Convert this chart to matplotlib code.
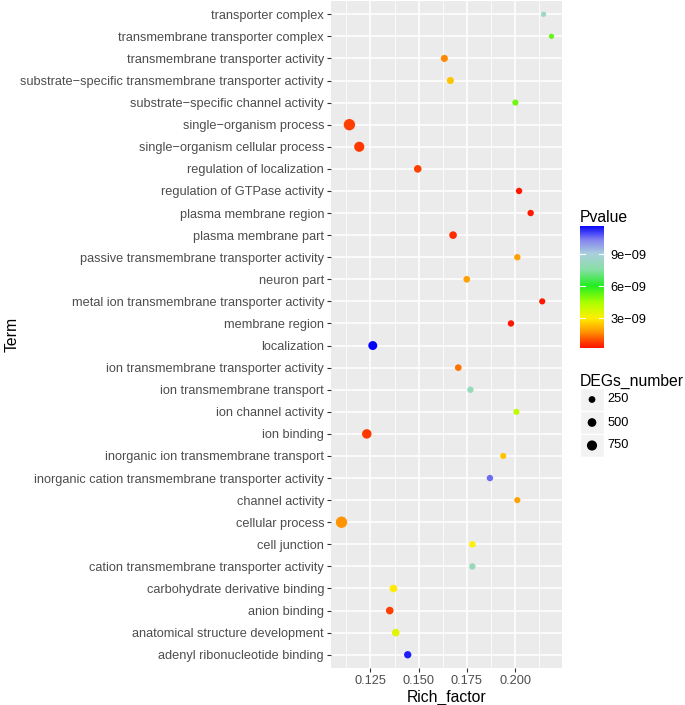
import numpy as np
import matplotlib
matplotlib.use("Agg")
import matplotlib.pyplot as plt
from matplotlib.colors import LinearSegmentedColormap, Normalize

plt.rcParams['font.family'] = ['Liberation Sans', 'DejaVu Sans']

# GO terms, listed top to bottom as in the chart
terms = [
    "transporter complex",
    "transmembrane transporter complex",
    "transmembrane transporter activity",
    "substrate\u2212specific transmembrane transporter activity",
    "substrate\u2212specific channel activity",
    "single\u2212organism process",
    "single\u2212organism cellular process",
    "regulation of localization",
    "regulation of GTPase activity",
    "plasma membrane region",
    "plasma membrane part",
    "passive transmembrane transporter activity",
    "neuron part",
    "metal ion transmembrane transporter activity",
    "membrane region",
    "localization",
    "ion transmembrane transporter activity",
    "ion transmembrane transport",
    "ion channel activity",
    "ion binding",
    "inorganic ion transmembrane transport",
    "inorganic cation transmembrane transporter activity",
    "channel activity",
    "cellular process",
    "cell junction",
    "cation transmembrane transporter activity",
    "carbohydrate derivative binding",
    "anion binding",
    "anatomical structure development",
    "adenyl ribonucleotide binding",
]
rich_factor = [0.2147, 0.2188, 0.1633, 0.1664, 0.2001, 0.1141, 0.1192, 0.1495,
               0.2020, 0.2080, 0.1678, 0.2011, 0.1749, 0.2140, 0.1978, 0.1262,
               0.1705, 0.1768, 0.2006, 0.1231, 0.1938, 0.1869, 0.2011, 0.1100,
               0.1778, 0.1778, 0.1369, 0.1350, 0.1381, 0.1443]
pvalue = [8.45e-9, 5.25e-9, 1.6e-9, 2.4e-9, 5.1e-9, 0.8e-9, 0.68e-9, 0.8e-9,
          0.3e-9, 0.3e-9, 0.5e-9, 1.9e-9, 1.9e-9, 0.22e-9, 0.25e-9, 11.65e-9,
          1.35e-9, 8.0e-9, 4.1e-9, 0.7e-9, 2.4e-9, 10.5e-9, 1.9e-9, 1.7e-9,
          3.0e-9, 8.1e-9, 2.9e-9, 0.8e-9, 3.5e-9, 11.3e-9]
degs = [110, 110, 280, 280, 185, 1000, 750, 350, 210, 210, 350, 210, 240, 185,
        210, 540, 240, 210, 185, 630, 185, 210, 185, 1000, 210, 210, 350, 350,
        350, 315]
size_breaks = [250, 500, 750]
p_breaks = [3e-9, 6e-9, 9e-9]
p_labels = ["3e\u221209", "6e\u221209", "9e\u221209"]

W, H = 685, 705
fig = plt.figure(figsize=(W / 100, H / 100), dpi=100)


def rect(x0, y0, x1, y1):
    return [x0 / W, 1 - y1 / H, (x1 - x0) / W, (y1 - y0) / H]


def marker_area(n):
    d_px = 2.2 + 0.29 * np.sqrt(np.asarray(n, dtype=float))
    return (d_px * 0.72) ** 2


cmap = LinearSegmentedColormap.from_list("pv", [
    (0.0, "#FF1500"), (0.06, "#FF4A00"), (0.13, "#FF9500"), (0.243, "#FFF000"),
    (0.37, "#AAFF00"), (0.506, "#22EE22"), (0.64, "#8ADFA8"),
    (0.768, "#AAD0DC"), (0.88, "#8484F0"), (1.0, "#0000FF")])
norm = Normalize(vmin=min(pvalue), vmax=max(pvalue))

ax = fig.add_axes(rect(331, 1, 562, 668))
ax.set_facecolor("#EBEBEB")
ypos = np.arange(len(terms))[::-1]
ax.scatter(rich_factor, ypos, s=marker_area(degs), c=pvalue, cmap=cmap,
           norm=norm, linewidths=0, zorder=3)

xmin, xmax = min(rich_factor), max(rich_factor)
pad = (xmax - xmin) * 0.05
ax.set_xlim(xmin - pad, xmax + pad)
ax.set_ylim(-0.6, len(terms) - 0.4)
ax.set_xticks([0.125, 0.150, 0.175, 0.200])
ax.set_xticklabels(["0.125", "0.150", "0.175", "0.200"])
ax.set_xticks([0.1125, 0.1375, 0.1625, 0.1875, 0.2125], minor=True)
ax.set_yticks(ypos)
ax.set_yticklabels(terms)
ax.grid(True, which="major", color="white", lw=1.1, zorder=1)
ax.grid(True, which="minor", axis="x", color="white", lw=0.55, zorder=1)
ax.set_axisbelow(True)
for sp in ax.spines.values():
    sp.set_visible(False)
ax.tick_params(which="major", length=2.75, width=0.8, color="#333333",
               labelcolor="#4D4D4D", labelsize=9.2, pad=2.2)
ax.tick_params(which="minor", length=0)
ax.set_xlabel("Rich_factor", fontsize=11.3, labelpad=2)
fig.text(12 / W, 1 - 334 / H, "Term", fontsize=11.3, rotation=90,
         ha="center", va="center")

# colour bar for Pvalue
fig.text(580 / W, 1 - 222 / H, "Pvalue", fontsize=11.3, va="baseline")
cax = fig.add_axes(rect(580, 226, 604, 348))
grad = np.linspace(norm.vmin, norm.vmax, 256).reshape(-1, 1)
cax.imshow(grad, aspect="auto", cmap=cmap, norm=norm, origin="lower",
           extent=(0, 1, norm.vmin, norm.vmax))
cax.set_xlim(0, 1)
cax.set_ylim(norm.vmin, norm.vmax)
cax.set_xticks([])
for b in p_breaks:
    cax.plot([0, 0.2], [b, b], color="white", lw=0.8)
    cax.plot([0.8, 1], [b, b], color="white", lw=0.8)
cax.yaxis.tick_right()
cax.set_yticks(p_breaks)
cax.set_yticklabels(p_labels)
cax.tick_params(axis="y", length=0, pad=4.5, labelsize=9.2, labelcolor="black")
for sp in cax.spines.values():
    sp.set_visible(False)

# size legend for DEGs_number
fig.text(580 / W, 1 - 386 / H, "DEGs_number", fontsize=11.3, va="baseline")
lax = fig.add_axes(rect(580, 388, 604, 457))
lax.set_xlim(0, 1)
lax.set_ylim(len(size_breaks), 0)
lax.axis("off")
for i, b in enumerate(size_breaks):
    lax.add_patch(plt.Rectangle((0, i), 1, 1, facecolor="#F2F2F2",
                                edgecolor="white", lw=1))
    lax.text(1.15, i + 0.5, str(b), fontsize=9.2, va="center", ha="left",
             transform=lax.transData)
lax.scatter([0.5] * len(size_breaks), np.arange(len(size_breaks)) + 0.5,
            s=marker_area(size_breaks), color="black", linewidths=0, zorder=3)

fig.savefig("out.png", dpi=100, facecolor="white")
